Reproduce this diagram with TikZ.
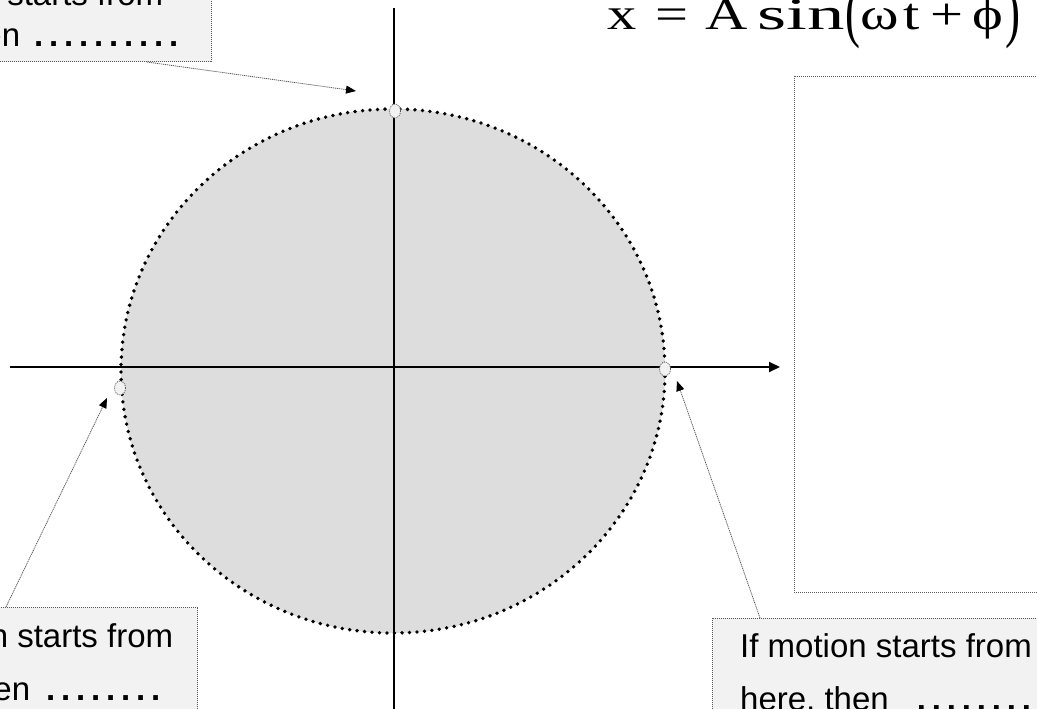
\documentclass[tikz,border=0pt]{standalone}
\usepackage{fontspec}
\setmainfont{Liberation Sans}
\newfontfamily\formfont[FakeStretch=1.3]{Liberation Serif}
\usetikzlibrary{arrows.meta,calc,shapes.geometric}
\definecolor{circfill}{HTML}{DDDDDD}
\definecolor{boxfill}{HTML}{F2F2F2}
\definecolor{dotgray}{HTML}{5A5A5A}
\newcommand{\ldot}{\makebox[15pt][l]{\textbf{.}}}
\newcommand{\fb}[2]{\makebox[#1pt][l]{#2}}
\begin{document}
\begin{tikzpicture}[x=1pt,y=-1pt,
  axis/.style={line width=2pt,black},
  callout/.style={draw=dotgray,fill=boxfill,line width=0.8pt,dash pattern=on 1pt off 1pt,inner sep=0pt,rectangle},
  emptybox/.style={draw=dotgray,line width=0.8pt,dash pattern=on 1pt off 1pt,inner sep=0pt,rectangle},
  lbl/.style={align=left,inner sep=0pt,anchor=base west},
  pointer/.style={draw=dotgray,line width=0.8pt,dash pattern=on 1.2pt off 0.8pt,-{Triangle[length=10pt,width=8pt,black]}},
  spot/.style={ellipse,draw=dotgray,fill=boxfill,line width=0.8pt,dash pattern=on 1pt off 1pt,minimum width=11pt,minimum height=14pt,inner sep=0pt}]
\useasboundingbox (0,0) rectangle (1037,709);
\clip (0,0) rectangle (1037,709);
% circle
\node[ellipse,fill=circfill,draw=black,line width=3.8pt,line cap=round,dash pattern=on 0pt off 7.5pt,minimum width=544pt,minimum height=524pt,inner sep=0pt] (circ) at (393,371) {};
% axes
\coordinate (yt) at (394,8);
\coordinate (yb) at (394,720);
\coordinate (xl) at (10,367);
\coordinate (xr) at (780,367);
\draw[axis] (yt) -- (yb);
\draw[axis,-{Triangle[length=11pt,width=10pt]}] (xl) -- (xr);
% points
\node[spot] (pTop) at (395,111) {};
\node[spot] (pLeft) at (120,388) {};
\node[spot] (pRight) at (665,369) {};
% empty rectangle
\node[emptybox,anchor=north west,minimum width=300pt,minimum height=516pt] (rbox) at (794,76) {};
% callout boxes
\node[callout,anchor=south east,minimum width=380pt,minimum height=130pt] (boxTL) at (212,62) {};
\node[callout,anchor=north east,minimum width=380pt,minimum height=150pt] (boxBL) at (198,607) {};
\node[callout,anchor=north west,minimum width=400pt,minimum height=150pt] (boxBR) at (712,618) {};
% texts (base anchor = baseline of last line)
\node[lbl,font=\fontsize{33}{41}\selectfont] (tTL) at (-128.6,47) {If motion starts from\\here, then\hspace{14pt}\ldot\ldot\ldot\ldot\ldot\ldot\ldot\ldot\ldot\ldot};
\node[lbl,font=\fontsize{33}{53}\selectfont] (tBL) at (-118.6,700) {If motion starts from\\here, then\hspace{16pt}\ldot\ldot\ldot\ldot\ldot\ldot\ldot\ldot};
\node[lbl,font=\fontsize{33}{53}\selectfont] (tBR) at (740,710) {If motion starts from\\here, then\hspace{28pt}\ldot\ldot\ldot\ldot\ldot\ldot\ldot\ldot};
% formula
\node[inner sep=0pt,anchor=base west,font=\formfont\fontsize{45}{45}\selectfont] (formula) at (607,30)
 {\fb{48}{x}\fb{50}{=}\fb{52}{A}\fb{88}{\scalebox{1.28}[1]{sin}}\fb{15}{\raisebox{-5pt}{\scalebox{0.77}[1.5]{(}}}\fb{43}{ω}\fb{27}{t}\fb{42}{+}\fb{33}{ϕ}\raisebox{-5pt}{\scalebox{0.77}[1.5]{)}}};
% pointers
\coordinate (aTop) at (356,91);
\coordinate (aLeft) at (107,398);
\coordinate (aRight) at (677,381);
\draw[pointer] ($(boxTL.south east)+(-65,0)$) -- (aTop);
\draw[pointer] ($(boxBL.north east)+(-192,0)$) -- (aLeft);
\draw[pointer] ($(boxBR.north west)+(48,0)$) -- (aRight);
\end{tikzpicture}
\end{document}
